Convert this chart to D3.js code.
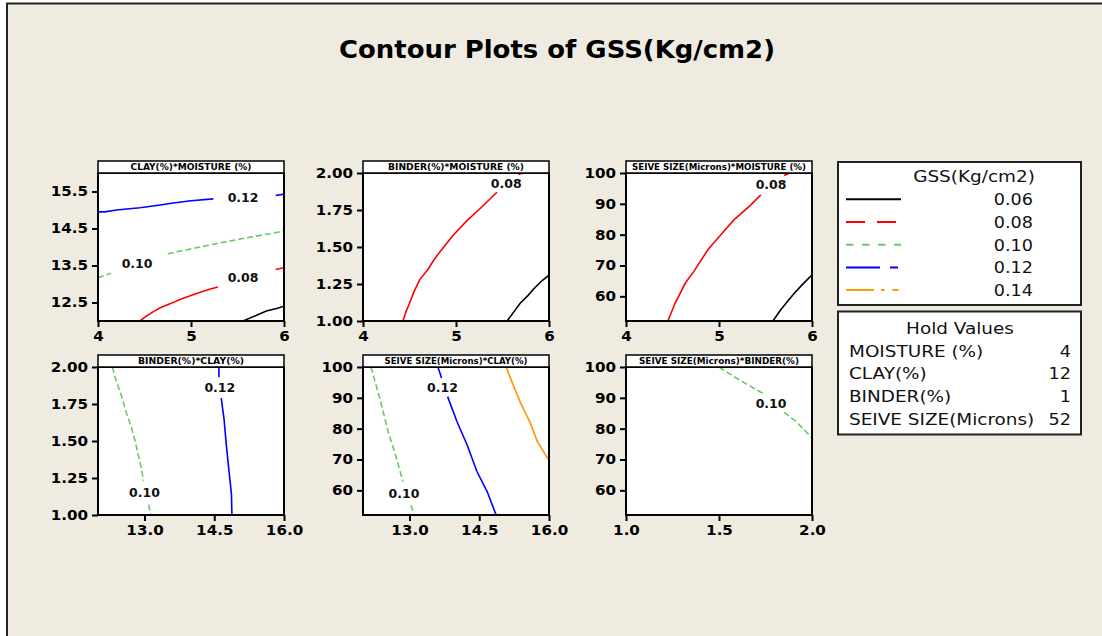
<!DOCTYPE html>
<html><head><meta charset="utf-8">
<script src="https://cdn.jsdelivr.net/npm/d3@7"></script>
<style>
html,body{margin:0;padding:0;background:#fff;}
svg{display:block;}
</style></head><body>
<svg id="c" width="1102" height="636"></svg>
<script>
// ---------------- DATA ----------------
const chartTitle = "Contour Plots of GSS(Kg/cm2)";
const legendTitle = "GSS(Kg/cm2)";
const levels = [0.06, 0.08, 0.10, 0.12, 0.14];
const levelText = ["0.06", "0.08", "0.10", "0.12", "0.14"];
const holdTitle = "Hold Values";
const holdNames = ["MOISTURE (%)", "CLAY(%)", "BINDER(%)", "SEIVE SIZE(Microns)"];
const holdValues = [4, 12, 1, 52];

const panelTitles = ["CLAY(%)*MOISTURE (%)", "BINDER(%)*MOISTURE (%)", "SEIVE SIZE(Microns)*MOISTURE (%)",
                     "BINDER(%)*CLAY(%)", "SEIVE SIZE(Microns)*CLAY(%)", "SEIVE SIZE(Microns)*BINDER(%)"];
const xDomains = [[4, 6], [4, 6], [4, 6], [12, 16], [12, 16], [1, 2]];
const yDomains = [[12, 16], [1, 2], [52, 100], [1, 2], [52, 100], [52, 100]];
const xTickValues = [[4, 5, 6], [4, 5, 6], [4, 5, 6], [13, 14.5, 16], [13, 14.5, 16], [1, 1.5, 2]];
const yTickValues = [[12.5, 13.5, 14.5, 15.5], [1, 1.25, 1.5, 1.75, 2], [60, 70, 80, 90, 100],
                     [1, 1.25, 1.5, 1.75, 2], [60, 70, 80, 90, 100], [60, 70, 80, 90, 100]];
const xTickFormats = ["d", "d", "d", ".1f", ".1f", ".1f"];
const yTickFormats = [".1f", ".2f", "d", ".2f", "d", "d"];

// contour lines (x, y) in data units; null = gap where a label sits
// Panel 1: CLAY vs MOISTURE
const clayMoisture006 = [[5.56, 12.0], [5.70, 12.15], [5.81, 12.27], [5.92, 12.34], [6.0, 12.40]];
const clayMoisture008 = [[4.45, 12.0], [4.52, 12.13], [4.60, 12.26], [4.67, 12.36], [4.78, 12.47], [4.88, 12.58],
                         [5.0, 12.69], [5.09, 12.77], [5.2, 12.86], [5.29, 12.92], null, [5.91, 13.39], [6.0, 13.44]];
const clayMoisture010 = [[4.0, 13.17], [4.14, 13.29], null, [4.75, 13.82], [5.0, 13.95], [5.27, 14.09],
                         [5.6, 14.25], [5.85, 14.36], [6.0, 14.43]];
const clayMoisture012 = [[4.0, 14.95], [4.07, 14.95], [4.2, 15.0], [4.45, 15.06], [4.65, 15.13], [4.81, 15.19],
                         [5.0, 15.25], [5.24, 15.30], null, [5.91, 15.39], [6.0, 15.43]];
const clayMoistureLabels = [[0.12, 5.56, 15.34], [0.10, 4.42, 13.55], [0.08, 5.56, 13.17]];

// Panel 2: BINDER vs MOISTURE
const binderMoisture006 = [[5.55, 1.0], [5.62, 1.06], [5.69, 1.12], [5.77, 1.17], [5.84, 1.22], [5.92, 1.27], [6.0, 1.31]];
const binderMoisture008 = [[4.43, 1.0], [4.46, 1.06], [4.50, 1.12], [4.55, 1.20], [4.61, 1.28], [4.70, 1.35],
                           [4.76, 1.41], [4.83, 1.47], [4.97, 1.58], [5.12, 1.68], [5.26, 1.76], [5.44, 1.87],
                           null, [5.67, 1.99], [5.72, 2.0]];
const binderMoistureLabels = [[0.08, 5.54, 1.93]];

// Panel 3: SEIVE SIZE vs MOISTURE
const seiveMoisture006 = [[5.58, 52], [5.66, 55.5], [5.74, 58.5], [5.81, 61.0], [5.88, 63.3], [6.0, 67]];
const seiveMoisture008 = [[4.45, 52], [4.53, 57.9], [4.64, 64.4], [4.73, 68.1], [4.88, 75.1], [5.02, 80],
                          [5.16, 84.8], [5.34, 89.6], [5.45, 92.9], null, [5.70, 99.2], [5.76, 100]];
const seiveMoistureLabels = [[0.08, 5.56, 96.3]];

// Panel 4: BINDER vs CLAY
const binderClay010 = [[12.31, 2.0], [12.38, 1.92], [12.50, 1.81], [12.62, 1.68], [12.72, 1.59], [12.80, 1.50],
                       [12.86, 1.41], [12.93, 1.32], [12.98, 1.23], null, [13.09, 1.07], [13.13, 1.0]];
const binderClay012 = [[14.6, 2.0], [14.6, 1.93], null, [14.65, 1.79], [14.71, 1.65], [14.76, 1.47],
                       [14.82, 1.29], [14.87, 1.14], [14.88, 1.0]];
const binderClayLabels = [[0.10, 13.0, 1.15], [0.12, 14.62, 1.86]];

// Panel 5: SEIVE SIZE vs CLAY
const seiveClay010 = [[12.17, 100], [12.36, 89.9], [12.54, 79.1], [12.72, 70.4], [12.86, 62.8], null,
                      [13.03, 55.2], [13.10, 52]];
const seiveClay012 = [[13.61, 100], [13.69, 96.4], null, [13.82, 90.4], [14.02, 82.3], [14.24, 74.7],
                      [14.45, 66.1], [14.67, 59.6], [14.85, 52.5], [14.87, 52]];
const seiveClay014 = [[15.08, 100], [15.17, 96.4], [15.39, 88.3], [15.60, 81.8], [15.75, 75.8], [15.98, 70.2], [16.0, 70]];
const seiveClayLabels = [[0.10, 12.88, 59], [0.12, 13.71, 93.4]];

// Panel 6: SEIVE SIZE vs BINDER
const seiveBinder010 = [[1.50, 100], [1.58, 96.9], [1.67, 93.7], [1.735, 91.5], null, [1.85, 85.3], [1.915, 82.3], [2.0, 77]];
const seiveBinderLabels = [[0.10, 1.78, 88.3]];

const panelContours = [
  [[0.06, clayMoisture006], [0.08, clayMoisture008], [0.10, clayMoisture010], [0.12, clayMoisture012]],
  [[0.06, binderMoisture006], [0.08, binderMoisture008]],
  [[0.06, seiveMoisture006], [0.08, seiveMoisture008]],
  [[0.10, binderClay010], [0.12, binderClay012]],
  [[0.10, seiveClay010], [0.12, seiveClay012], [0.14, seiveClay014]],
  [[0.10, seiveBinder010]]
];
const panelLabels = [clayMoistureLabels, binderMoistureLabels, seiveMoistureLabels,
                     binderClayLabels, seiveClayLabels, seiveBinderLabels];

// ---------------- STYLE / LAYOUT ----------------
const FONT = "'DejaVu Sans', Verdana, sans-serif";
const colors = {0.06: "#000000", 0.08: "#FF0000", 0.10: "#66CC66", 0.12: "#0000FF", 0.14: "#FF9900"};
const plotDash = {0.06: null, 0.08: null, 0.10: "6,3", 0.12: null, 0.14: null};
const legendDash = {0.06: null, 0.08: "19,12", 0.10: "7.5,8.5", 0.12: "34,10,8,10", 0.14: "28,7,3.5,8,6,10"};
const colX = [98, 363, 626], rowY = [173, 367];
const pw = 186, ph = 148, barH = 12;
const panelTitleWidths = [121, 136, 174, 106, 143, 160];

const svg = d3.select("#c");
svg.append("rect").attr("x", 0).attr("y", 0).attr("width", 1102).attr("height", 636).attr("fill", "#fff");
svg.append("rect").attr("x", 7).attr("y", 3.5).attr("width", 1110).attr("height", 650)
  .attr("fill", "#EFEBE1").attr("stroke", "#222").attr("stroke-width", 2);

function stretch(sel, factor) {
  sel.each(function () {
    const L = this.getComputedTextLength();
    d3.select(this).attr("textLength", L * factor).attr("lengthAdjust", "spacingAndGlyphs");
  });
}

svg.append("text").attr("x", 557).attr("y", 58).attr("text-anchor", "middle")
  .attr("font-family", FONT).attr("font-weight", "bold").attr("font-size", 24)
  .attr("textLength", 436).attr("lengthAdjust", "spacingAndGlyphs")
  .text(chartTitle);

panelTitles.forEach((title, i) => {
  const r = Math.floor(i / 3), c = i % 3;
  const g = svg.append("g").attr("transform", `translate(${colX[c]},${rowY[r]})`);
  const x = d3.scaleLinear().domain(xDomains[i]).range([0, pw]);
  const y = d3.scaleLinear().domain(yDomains[i]).range([ph, 0]);

  g.append("rect").attr("width", pw).attr("height", ph).attr("fill", "#fff");
  const cid = "clip" + i;
  g.append("clipPath").attr("id", cid).append("rect").attr("width", pw).attr("height", ph);

  const line = d3.line().defined(d => d !== null).x(d => x(d[0])).y(d => y(d[1]));
  const lg = g.append("g").attr("clip-path", `url(#${cid})`);
  panelContours[i].forEach(([lev, pts]) => {
    lg.append("path").attr("d", line(pts)).attr("fill", "none")
      .attr("stroke", colors[lev]).attr("stroke-width", 1.6)
      .attr("stroke-dasharray", plotDash[lev]);
  });
  panelLabels[i].forEach(([lev, lx, ly]) => {
    g.append("text").attr("x", x(lx)).attr("y", y(ly)).attr("dy", "0.36em")
      .attr("text-anchor", "middle").attr("font-family", FONT).attr("font-weight", "bold")
      .attr("font-size", 12.5).attr("fill", "#111").text(d3.format(".2f")(lev));
  });

  g.append("rect").attr("width", pw).attr("height", ph).attr("fill", "none")
    .attr("stroke", "#000").attr("stroke-width", 2);
  g.append("rect").attr("y", -barH).attr("width", pw).attr("height", barH).attr("fill", "#fff")
    .attr("stroke", "#000").attr("stroke-width", 1.5);
  g.append("text").attr("x", pw / 2).attr("y", -barH / 2).attr("dy", "0.35em").attr("text-anchor", "middle")
    .attr("font-family", FONT).attr("font-weight", "bold").attr("font-size", 8.5)
    .attr("textLength", panelTitleWidths[i]).attr("lengthAdjust", "spacingAndGlyphs").text(title);

  const xa = g.append("g").attr("transform", `translate(0,${ph})`)
    .call(d3.axisBottom(x).tickValues(xTickValues[i]).tickFormat(d3.format(xTickFormats[i])).tickSize(6).tickPadding(4));
  const ya = g.append("g")
    .call(d3.axisLeft(y).tickValues(yTickValues[i]).tickFormat(d3.format(yTickFormats[i])).tickSize(6).tickPadding(4));
  [xa, ya].forEach(a => {
    a.select(".domain").remove();
    a.selectAll("line").attr("stroke", "#000").attr("stroke-width", 2);
    a.selectAll("text").attr("font-family", FONT).attr("font-weight", "bold").attr("font-size", 14).attr("fill", "#000");
    stretch(a.selectAll("text"), 1.08);
  });
});

// Legend
const lx0 = 838, lw = 243;
svg.append("rect").attr("x", lx0).attr("y", 162).attr("width", lw).attr("height", 143)
  .attr("fill", "#fff").attr("stroke", "#222").attr("stroke-width", 2);
const lt = svg.append("text").attr("x", 974).attr("y", 182).attr("text-anchor", "middle")
  .attr("font-family", FONT).attr("font-size", 16).attr("fill", "#111").text(legendTitle);
stretch(lt, 1.15);
levels.forEach((lev, i) => {
  const yy = 199.3 + i * 22.7;
  svg.append("line").attr("x1", 846).attr("x2", 901).attr("y1", yy).attr("y2", yy)
    .attr("stroke", colors[lev]).attr("stroke-width", 2).attr("stroke-dasharray", legendDash[lev]);
  const t = svg.append("text").attr("x", 1033).attr("y", yy + 6).attr("text-anchor", "end")
    .attr("font-family", FONT).attr("font-size", 16).attr("fill", "#111").text(levelText[i]);
  stretch(t, 1.1);
});

svg.append("rect").attr("x", lx0).attr("y", 311.5).attr("width", lw).attr("height", 123)
  .attr("fill", "#fff").attr("stroke", "#222").attr("stroke-width", 2);
const ht = svg.append("text").attr("x", 960).attr("y", 334).attr("text-anchor", "middle")
  .attr("font-family", FONT).attr("font-size", 16).attr("fill", "#111").text(holdTitle);
stretch(ht, 1.15);
holdNames.forEach((nm, i) => {
  const yy = 356.7 + i * 22.6;
  const a = svg.append("text").attr("x", 849).attr("y", yy).attr("font-family", FONT)
    .attr("font-size", 16).attr("fill", "#111").text(nm);
  stretch(a, 1.15);
  const b = svg.append("text").attr("x", 1071).attr("y", yy).attr("text-anchor", "end").attr("font-family", FONT)
    .attr("font-size", 16).attr("fill", "#111").text(holdValues[i]);
  stretch(b, 1.1);
});
</script>
</body></html>
